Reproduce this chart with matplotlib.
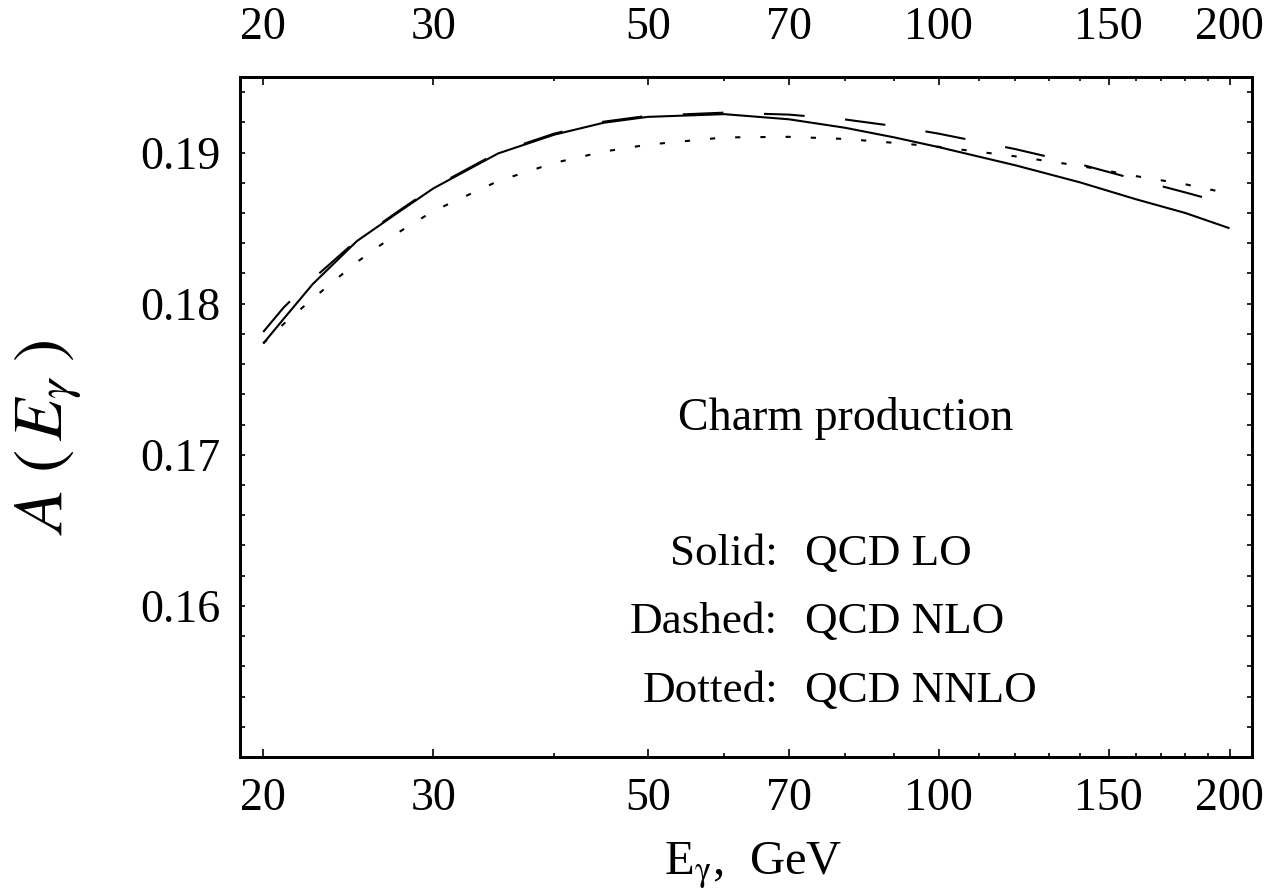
import matplotlib
matplotlib.use("Agg")
import matplotlib.pyplot as plt
from matplotlib.ticker import NullFormatter

plt.rcParams['font.family'] = ['Liberation Serif', 'DejaVu Serif']
plt.rcParams['mathtext.fontset'] = 'stix'

# photon energy, GeV
e_gamma = [20, 21, 22.5, 25, 27.5, 30, 35, 40, 45, 50, 60, 70, 80, 90, 100,
           120, 140, 160, 180, 200]

# asymmetry A(E_gamma) for charm production
a_lo = [0.17736, 0.17900, 0.18129, 0.18414, 0.18598, 0.18763, 0.18994,
        0.19118, 0.19197, 0.19236, 0.19254, 0.19220, 0.19164, 0.19100,
        0.19036, 0.18916, 0.18803, 0.18691, 0.18600, 0.18499]
a_nlo = [0.17813, 0.17975, 0.18162, 0.18420, 0.18605, 0.18770, 0.19001,
         0.19125, 0.19204, 0.19243, 0.19264, 0.19251, 0.19219, 0.19175,
         0.19125, 0.19023, 0.18923, 0.18822, 0.18736, 0.18656]
a_nnlo = [0.17738, 0.17866, 0.18033, 0.18275, 0.18465, 0.18613, 0.18811,
          0.18931, 0.19006, 0.19052, 0.19100, 0.19104, 0.19090, 0.19064,
          0.19038, 0.18975, 0.18912, 0.18844, 0.18790, 0.18728]

x_major = [20, 30, 50, 70, 100, 150, 200]
x_minor = [40, 60, 80, 90, 110, 120, 130, 140, 160, 170, 180, 190]
y_major = [0.16, 0.17, 0.18, 0.19]

legend_rows = [("Solid:", "QCD LO"), ("Dashed:", "QCD NLO"),
               ("Dotted:", "QCD NNLO")]

fig = plt.figure(figsize=(12.64, 8.92), dpi=100)
ax = fig.add_axes([0.19, 0.1513, 0.8005, 0.7624])

lw = 1.5
ax.plot(e_gamma, a_lo, color='black', lw=lw, solid_capstyle='butt')
ax.plot(e_gamma, a_nlo, color='black', lw=lw, dashes=(19.5, 19.5),
        dash_capstyle='butt')
ax.plot(e_gamma, a_nnlo, color='black', lw=lw, dashes=(2.5, 9.6),
        dash_capstyle='butt')

ax.set_xscale('log')
ax.set_xlim(18.93, 211)
ax.set_ylim(0.150, 0.195)

ax.set_xticks(x_major)
ax.set_xticklabels([str(v) for v in x_major])
ax.set_xticks(x_minor, minor=True)
ax.xaxis.set_minor_formatter(NullFormatter())
ax.set_yticks(y_major)
ax.set_yticklabels(['%.2f' % v for v in y_major])
ax.set_yticks([0.15 + 0.002 * i for i in range(23)], minor=True)

for side in ax.spines.values():
    side.set_linewidth(2.0)

ax.tick_params(axis='both', which='both', direction='in', width=1.2,
               labelsize=33, top=False, right=True, bottom=True, left=True)
ax.tick_params(axis='x', which='major', length=5.8, pad=15)
ax.tick_params(axis='x', which='minor', length=3.2)
ax.tick_params(axis='y', which='both', length=3.3, pad=14)

# mirrored energy scale along the top edge
top = ax.twiny()
top.set_xscale('log')
top.set_xlim(ax.get_xlim())
top.set_xticks(x_major)
top.set_xticklabels([str(v) for v in x_major])
top.set_xticks(x_minor, minor=True)
top.xaxis.set_minor_formatter(NullFormatter())
top.tick_params(axis='x', which='both', direction='in', width=1.2,
                labelsize=33)
top.tick_params(axis='x', which='major', length=5.8, pad=20)
top.tick_params(axis='x', which='minor', length=3.2)
for side in top.spines.values():
    side.set_linewidth(2.0)

ax.text(0.507, -0.160, r'E$_{\mathrm{\gamma}}$,  GeV', transform=ax.transAxes,
        ha='center', va='center', fontsize=35)
ax.text(-0.19, 0.47, r'$A\ (\,E_{\gamma}\; )$', transform=ax.transAxes,
        ha='center', va='center', rotation=90, fontsize=50)

ax.text(0.4328, 0.4809, 'Charm production', transform=ax.transAxes,
        ha='left', va='baseline', fontsize=33)
for (name, order), yb in zip(legend_rows, [0.2824, 0.1824, 0.0809]):
    ax.text(0.5316, yb, name, transform=ax.transAxes, ha='right',
            va='baseline', fontsize=32.5)
    ax.text(0.5583, yb, order, transform=ax.transAxes, ha='left',
            va='baseline', fontsize=32.5)

fig.savefig('out.png', dpi=100)
